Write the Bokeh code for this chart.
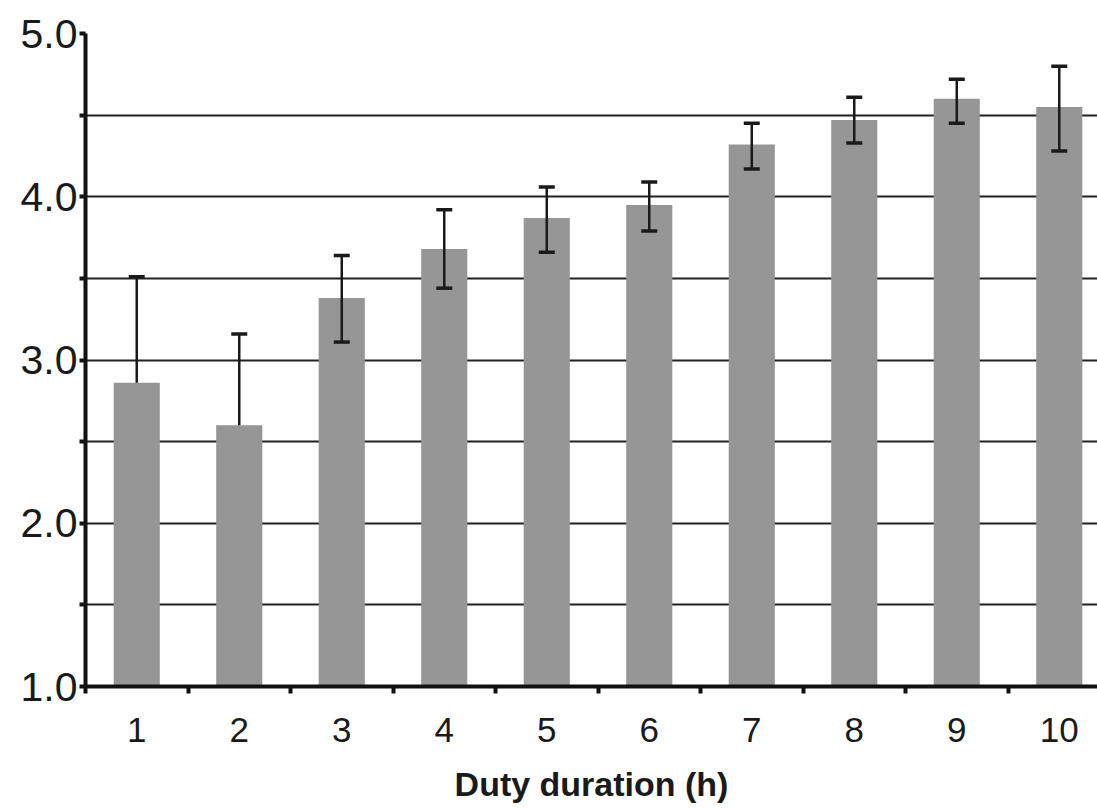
from bokeh.plotting import figure
from bokeh.models import Range1d, FixedTicker, ColumnDataSource
from bokeh.embed import file_html
from bokeh.resources import INLINE

hours = [1, 2, 3, 4, 5, 6, 7, 8, 9, 10]
means = [2.86, 2.60, 3.38, 3.68, 3.87, 3.95, 4.32, 4.47, 4.60, 4.55]
err_upper = [0.65, 0.56, 0.26, 0.24, 0.19, 0.14, 0.13, 0.14, 0.12, 0.25]
err_lower = [0.0, 0.0, 0.27, 0.24, 0.21, 0.16, 0.15, 0.14, 0.15, 0.27]
y_ticks = [1, 2, 3, 4, 5]
y_minor = [1.5, 2.5, 3.5, 4.5]
x_label = "Duty duration (h)"

FONT = "Liberation Sans"
INK = "#111111"

p = figure(width=1097, height=809, output_backend="svg", toolbar_location=None,
           x_range=Range1d(0.5, 10.373), y_range=Range1d(1, 5),
           min_border_left=85, min_border_top=33, min_border_right=0, min_border_bottom=123)
p.outline_line_color = None
p.background_fill_color = "white"

src = ColumnDataSource(dict(x=hours, top=means,
                            up=[m + e for m, e in zip(means, err_upper)],
                            lo=[m - e for m, e in zip(means, err_lower)]))
p.vbar(x="x", top="top", bottom=1, width=0.45, source=src,
       fill_color="#969696", line_color=None)

# error bars
p.segment(x0="x", y0="lo", x1="x", y1="up", source=src, line_color="#1a1a1a", line_width=2.5)
p.scatter(x="x", y="up", source=src, marker="dash", size=16, line_color="#1a1a1a", line_width=3.5)
lo_x = [h for h, e in zip(hours, err_lower) if e > 0]
lo_y = [m - e for m, e in zip(means, err_lower) if e > 0]
p.scatter(x=lo_x, y=lo_y, marker="dash", size=16, line_color="#1a1a1a", line_width=3.5)

# x axis
p.xaxis.ticker = FixedTicker(ticks=hours, minor_ticks=[h + 0.5 for h in [0] + hours])
p.xaxis.major_tick_line_color = None
p.xaxis.minor_tick_line_color = INK
p.xaxis.minor_tick_line_width = 4
p.xaxis.minor_tick_out = 7
p.xaxis.minor_tick_in = 0
p.xaxis.axis_line_width = 4
p.xaxis.axis_line_color = INK
p.xaxis.major_label_text_font = FONT
p.xaxis.major_label_text_font_size = "35px"
p.xaxis.major_label_text_color = "#1a1a1a"
p.xaxis.major_label_standoff = 24
p.xaxis.axis_label = x_label
p.xaxis.axis_label_text_font = FONT
p.xaxis.axis_label_text_font_style = "bold"
p.xaxis.axis_label_text_font_size = "34px"
p.xaxis.axis_label_text_color = "#1a1a1a"
p.xaxis.axis_label_standoff = 20

# y axis
p.yaxis.ticker = FixedTicker(ticks=y_ticks, minor_ticks=y_minor)
p.yaxis.major_label_overrides = {t: f"{t:.1f}" for t in y_ticks}
p.yaxis.major_tick_line_color = INK
p.yaxis.major_tick_line_width = 4
p.yaxis.major_tick_out = 6
p.yaxis.major_tick_in = 0
p.yaxis.minor_tick_line_color = INK
p.yaxis.minor_tick_line_width = 4
p.yaxis.minor_tick_out = 6
p.yaxis.minor_tick_in = 0
p.yaxis.axis_line_width = 4
p.yaxis.axis_line_color = INK
p.yaxis.major_label_text_font = FONT
p.yaxis.major_label_text_font_size = "41px"
p.yaxis.major_label_text_color = "#1a1a1a"
p.yaxis.major_label_standoff = 2

# grid
p.xgrid.grid_line_color = None
p.ygrid.ticker = FixedTicker(ticks=y_ticks, minor_ticks=y_minor)
p.ygrid.grid_line_color = "#222222"
p.ygrid.grid_line_width = 2.2
p.ygrid.minor_grid_line_color = "#222222"
p.ygrid.minor_grid_line_width = 2.2
p.ygrid.level = "underlay"

open("out.html", "w").write(file_html(p, INLINE))
